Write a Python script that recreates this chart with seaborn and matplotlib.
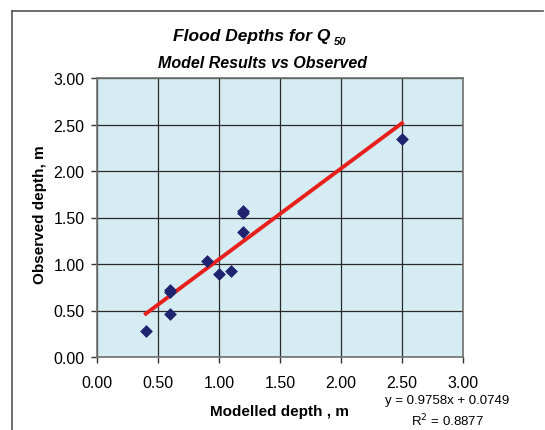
import numpy as np
import pandas as pd
import matplotlib
matplotlib.use("Agg")
import matplotlib.pyplot as plt
import seaborn as sns
from matplotlib.lines import Line2D

# Observed vs modelled flood depths (m)
modelled = [0.40, 0.60, 0.60, 0.60, 0.90, 1.00, 1.10, 1.20, 1.20, 1.20, 2.50]
observed = [0.28, 0.70, 0.72, 0.46, 1.03, 0.89, 0.92, 1.34, 1.55, 1.57, 2.34]

# Linear trendline as reported
slope = 0.9758
intercept = 0.0749
r_squared = 0.8877

ticks = [0.0, 0.5, 1.0, 1.5, 2.0, 2.5, 3.0]

plt.rcParams['font.family'] = ['Liberation Sans', 'DejaVu Sans']

df = pd.DataFrame({'Modelled': modelled, 'Observed': observed})
x_fit = np.array([min(modelled), max(modelled)])
fit = pd.DataFrame({'Modelled': x_fit, 'Observed': slope * x_fit + intercept})

W, H = 545, 431
fig = plt.figure(figsize=(W / 100, H / 100), dpi=100)
ax = fig.add_axes([97 / W, (H - 358) / H, 366 / W, 279 / H])
ax.set_facecolor('#d5ecf3')

sns.lineplot(data=fit, x='Modelled', y='Observed', color='#e8201c',
             linewidth=2.8, ax=ax, zorder=3)
sns.scatterplot(data=df, x='Modelled', y='Observed', marker='D', s=36,
                color='#1f2370', edgecolor='#1f2370', linewidth=0.5,
                ax=ax, zorder=4)

ax.set_xlim(0, 3)
ax.set_ylim(0, 3)
ax.set_xticks(ticks)
ax.set_yticks(ticks)
ax.set_xticklabels([f'{t:.2f}' for t in ticks], fontsize=11.5)
ax.set_yticklabels([f'{t:.2f}' for t in ticks], fontsize=11.5)
ax.tick_params(direction='out', length=4, width=1, color='#333333')
ax.tick_params(axis='y', pad=5)
ax.tick_params(axis='x', pad=9)
ax.grid(True, color='#2a2a2a', linewidth=0.9)
ax.set_axisbelow(True)
for s in ax.spines.values():
    s.set_color('#707070')
    s.set_linewidth(1.2)
ax.set_xlabel('')
ax.set_ylabel('')

# titles and labels
fig.text(330 / W, 1 - 37 / H, 'Flood Depths for Q', fontsize=12.5,
         fontweight='bold', fontstyle='italic', ha='right', va='center')
fig.text(334 / W, 1 - 42 / H, '50', fontsize=8, fontweight='bold',
         fontstyle='italic', ha='left', va='center')
fig.text(262 / W, 1 - 64 / H, 'Model Results vs Observed', fontsize=11.5,
         fontweight='bold', fontstyle='italic', ha='center', va='center')
fig.text(280 / W, 1 - 412 / H, 'Modelled depth , m', fontsize=11,
         fontweight='bold', ha='center', va='center')
fig.text(40 / W, 1 - 215 / H, 'Observed depth, m', fontsize=11,
         fontweight='bold', ha='center', va='center', rotation=90)
fig.text(447 / W, 1 - 401 / H, f'y = {slope:.4f}x + {intercept:.4f}',
         fontsize=9.5, ha='center', va='center')
fig.text(447 / W, 1 - 421 / H, f'R$^2$ = {r_squared:.4f}',
         fontsize=9.5, ha='center', va='center')

# outer chart frame
fig.add_artist(Line2D([12 / W, 12 / W], [0, 1 - 12 / H], color='#555555',
                      linewidth=1.2, transform=fig.transFigure))
fig.add_artist(Line2D([12 / W, 543 / W], [1 - 12 / H, 1 - 12 / H],
                      color='#555555', linewidth=1.2, transform=fig.transFigure))

fig.savefig('out.png', dpi=100)
